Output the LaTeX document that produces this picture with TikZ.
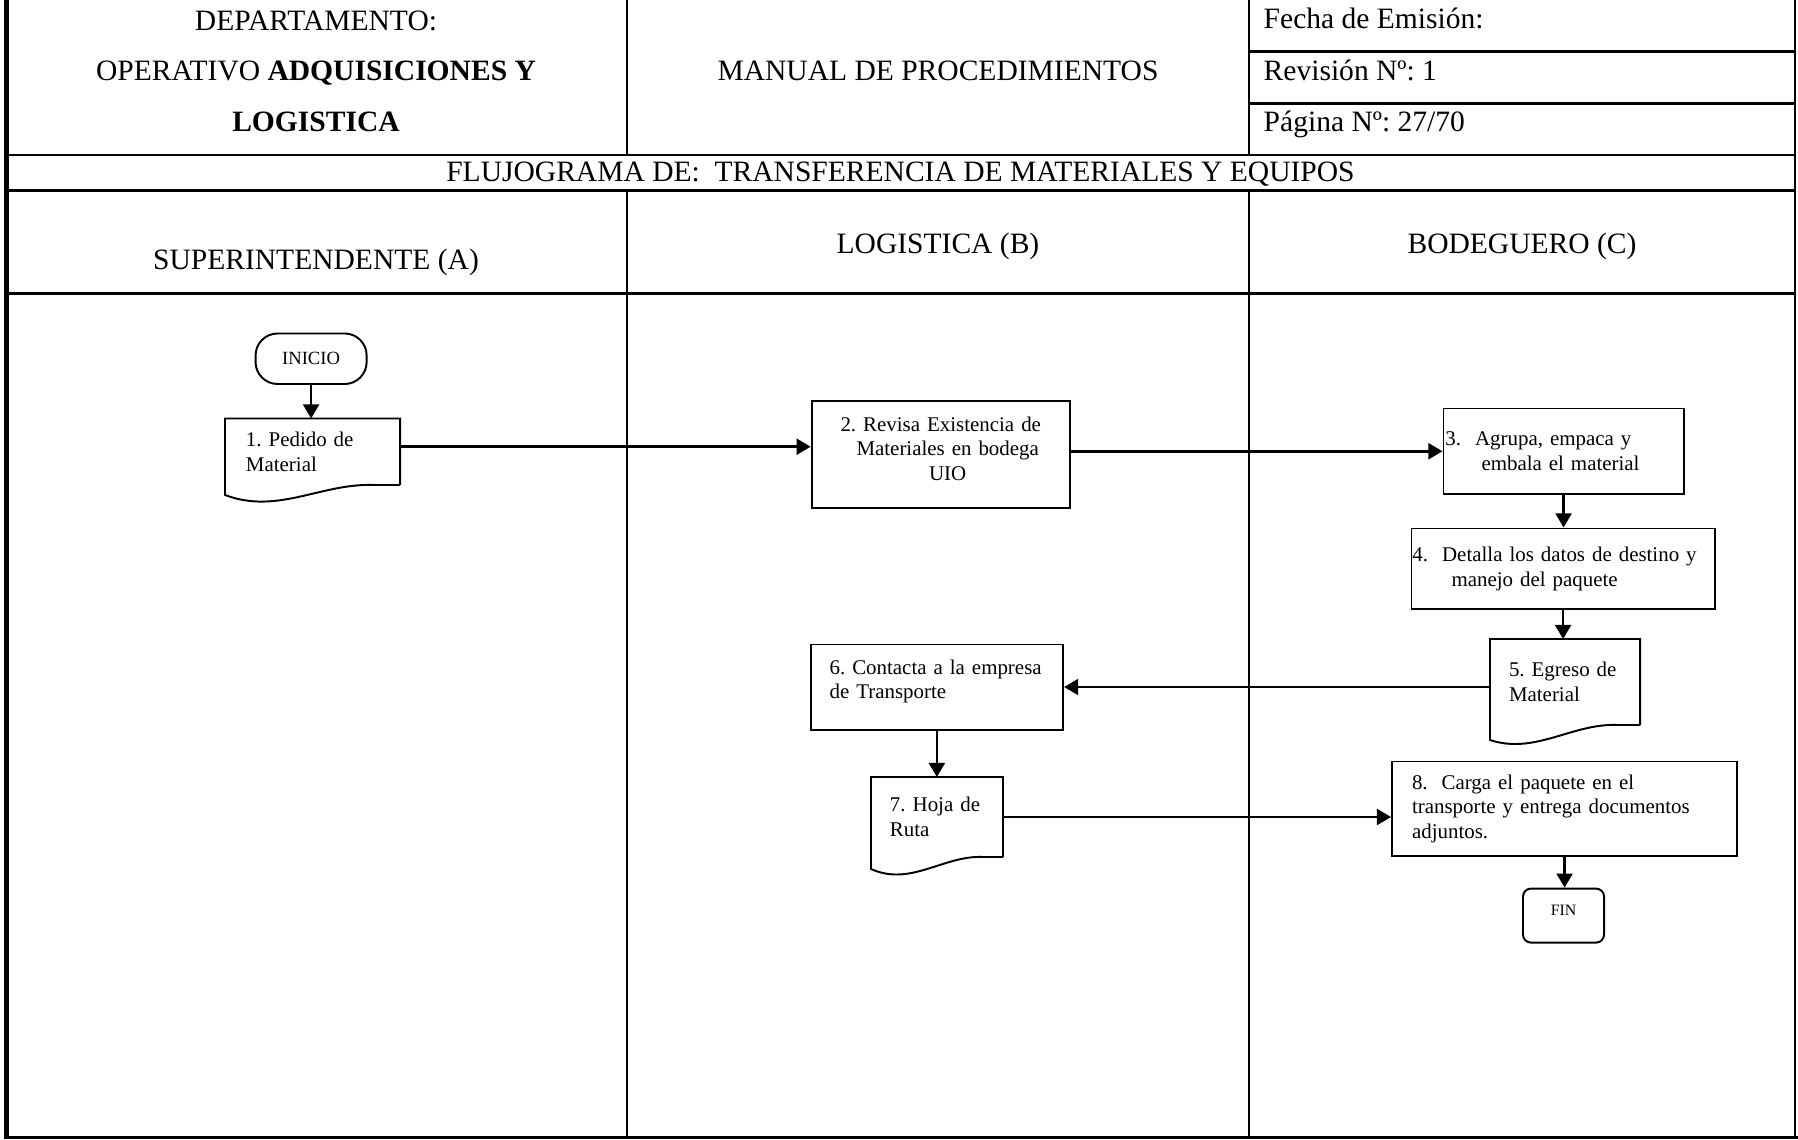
\documentclass[tikz,border=0pt]{standalone}
\usepackage{fontspec}
\setmainfont{Liberation Serif}
\usetikzlibrary{calc,arrows.meta}

\frenchspacing
\hyphenpenalty=10000

\newcommand{\headfont}{\fontsize{8.4}{9}\selectfont}
\newcommand{\stepfont}{\fontsize{5.95}{6.95}\selectfont}
\newcommand{\lowstrut}[1]{\rule[-#1]{0pt}{0pt}}

%% Document symbol: box with a wavy bottom edge
\newcommand{\docwave}[2]{%
  \draw[line width=0.55pt] (#1.south east) -- (#1.north east) -- (#1.north west)
    -- ($(#1.south west)+(0,#2)$)
    .. controls ($(#1.south west)!0.3!(#1.south east)+(0,30)$) and ($(#1.south west)!0.55!(#1.south east)+(0,-2)$)
    .. ($(#1.south west)!0.85!(#1.south east)$) -- (#1.south east);}

\tikzset{
  frame/.style={line width=0.7pt},
  head/.style={font=\headfont,inner sep=0pt,anchor=base},
  stepbox/.style={draw,line width=0.55pt,rectangle,anchor=north west,inner xsep=0.2cm,inner ysep=0pt,align=left,font=\stepfont},
  docbox/.style={stepbox,draw=none},
  term/.style={draw,line width=0.55pt,rectangle,anchor=north west,inner sep=0pt},
  flow/.style={line width=0.75pt,-{Triangle[length=4pt,width=4.5pt]}}
}

\begin{document}
\begin{tikzpicture}[x=0.01cm,y=-0.01cm]
    \useasboundingbox (0,0) rectangle (1798,1139);
    %% Outer frame
    \draw[line width=1.3pt] (6.5,0) -- (6.5,1139);
    \draw[frame] (1795,0) -- (1795,1137.5);
    \draw[line width=0.85pt] (4,1137.5) -- (1798,1137.5);
    %% Header rows
    \draw[frame] (6,155) -- (1795,155);
    \draw[frame] (6,190.5) -- (1795,190.5);
    \draw[frame] (6,293.5) -- (1795,293.5);
    \draw[frame] (1249,51.7) -- (1795,51.7);
    \draw[frame] (1249,103.3) -- (1795,103.3);
    %% Columns
    \draw[frame] (627,0) -- (627,155);
    \draw[frame] (627,190.5) -- (627,1137.5);
    \draw[frame] (1249,0) -- (1249,155);
    \draw[frame] (1249,190.5) -- (1249,1137.5);
    %% Header texts
    \node[head] (dep) at (316,30) {DEPARTAMENTO:};
    \node[head] (ope) at (316,80) {OPERATIVO \textbf{ADQUISICIONES Y}};
    \node[head,font=\headfont\bfseries] (lgt) at (316,131.5) {LOGISTICA};
    \node[head] (man) at (938,80) {MANUAL DE PROCEDIMIENTOS};
    \node[head,anchor=base west] (fec) at (1263,28.5) {Fecha de Emisión:};
    \node[head,anchor=base west] (rev) at (1263,80) {Revisión Nº: 1};
    \node[head,anchor=base west] (pag) at (1263,131.5) {Página Nº: 27/70};
    \node[head] (tit) at (900.5,181.5) {FLUJOGRAMA DE:\ \ TRANSFERENCIA DE MATERIALES Y EQUIPOS};
    %% Lanes
    \node[head] (lna) at (316,269) {SUPERINTENDENTE (A)};
    \node[head] (lnb) at (938,253) {LOGISTICA (B)};
    \node[head] (lnc) at (1522,253) {BODEGUERO (C)};
    %% Superintendente
    \node[term,rounded corners=0.22cm,minimum width=1.11cm,minimum height=0.505cm,font=\fontsize{5.3}{6}\selectfont] (ini) at (254.6,332.5) {INICIO};
    \node[docbox,minimum width=1.73cm,minimum height=0.645cm,text width=1.33cm] (d1) at (225,418.5) {1. Pedido de\\Material};
    \docwave{d1}{10}
    %% Logistica
    \node[stepbox,align=center,minimum width=2.58cm,minimum height=1.066cm,text width=2.18cm] (s2) at (810.7,400.2) {2. Revisa Existencia de\\\ \ Materiales en bodega\\\ \ UIO\lowstrut{0.12cm}};
    \node[stepbox,inner xsep=0.16cm,minimum width=2.524cm,minimum height=0.85cm,text width=2.204cm] (s6) at (809.6,643.5) {\hspace*{0.03cm}6. Contacta a la empresa\\\hspace*{0.03cm}de Transporte\lowstrut{0.16cm}};
    \node[docbox,inner xsep=0.18cm,minimum width=1.3cm,minimum height=0.78cm,text width=0.94cm] (d7) at (871,777) {7. Hoja de\\Ruta};
    \docwave{d7}{12}
    %% Bodeguero
    \node[stepbox,inner xsep=0.02cm,minimum width=2.4cm,minimum height=0.855cm,text width=2.36cm] (s3) at (1442.5,407.5) {3.\ \ Agrupa, empaca y\\\hspace*{0.36cm}embala el material};
    \node[stepbox,inner xsep=0.01cm,minimum width=3.03cm,minimum height=0.805cm,text width=3.01cm] (s4) at (1410.5,527.5) {4.\ \ Detalla los datos de destino y\\\hspace*{0.39cm}manejo del paquete};
    \node[docbox,inner xsep=0.18cm,minimum width=1.48cm,minimum height=0.84cm,text width=1.12cm] (d5) at (1490,639) {5. Egreso de\\Material};
    \docwave{d5}{15}
    \node[stepbox,minimum width=3.45cm,minimum height=0.947cm,text width=3.05cm] (s8) at (1391,760.5) {8.\ \ Carga el paquete en el\\transporte y entrega documentos\\adjuntos.};
    \node[term,rounded corners=0.08cm,minimum width=0.81cm,minimum height=0.54cm,font=\fontsize{4.5}{5}\selectfont] (fin) at (1522,887.6) {FIN\lowstrut{0.1cm}};
    %% Flow
    \draw[flow] (ini.south) -- (ini.south |- d1.north);
    \draw[flow] ([yshift=0.05cm]d1.east) -- ([yshift=0.05cm]d1.east -| s2.west);
    \draw[flow] (s2.east |- s3.west) -- (s3.west);
    \draw[flow] (s3.south) -- (s3.south |- s4.north);
    \draw[flow] (s4.south) -- (s4.south |- d5.north);
    \draw[flow] (d5.west |- s6.east) -- (s6.east);
    \draw[flow] (s6.south) -- (s6.south |- d7.north);
    \draw[flow] (d7.east) -- (d7.east -| s8.west);
    \draw[flow] (s8.south) -- (s8.south |- fin.north);
\end{tikzpicture}
\end{document}
